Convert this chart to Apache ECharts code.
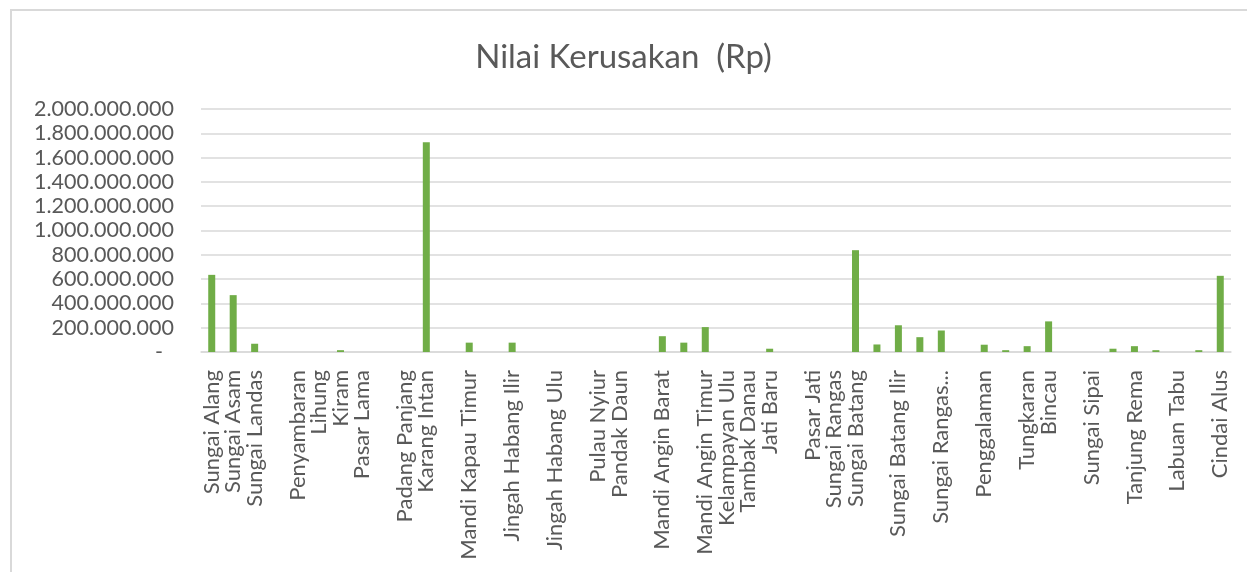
<!DOCTYPE html>
<html>
<head>
<meta charset="utf-8">
<script src="https://cdn.jsdelivr.net/npm/echarts@6/dist/echarts.min.js"></script>
<style>
html,body{margin:0;padding:0;background:#fff;}
#chart{width:1247px;height:572px;}
</style>
</head>
<body>
<div id="chart"></div>
<script>
var chartTitle = 'Nilai Kerusakan  (Rp)';
var categories = [
  'Sungai Alang', 'Sungai Asam', 'Sungai Landas', '', 'Penyambaran', 'Lihung', 'Kiram', 'Pasar Lama',
  '', 'Padang Panjang', 'Karang Intan', '', 'Mandi Kapau Timur', '', 'Jingah Habang Ilir', '',
  'Jingah Habang Ulu', '', 'Pulau Nyiur', 'Pandak Daun', '', 'Mandi Angin Barat', '', 'Mandi Angin Timur',
  'Kelampayan Ulu', 'Tambak Danau', 'Jati Baru', '', 'Pasar Jati', 'Sungai Rangas', 'Sungai Batang', '',
  'Sungai Batang Ilir', '', 'Sungai Rangas...', '', 'Penggalaman', '', 'Tungkaran', 'Bincau',
  '', 'Sungai Sipai', '', 'Tanjung Rema', '', 'Labuan Tabu', '', 'Cindai Alus'
];
var nilaiKerusakan = [
  635000000, 468000000, 68000000, 0, 0, 0, 15000000, 0,
  0, 0, 1726000000, 0, 77000000, 0, 77000000, 0,
  0, 0, 0, 0, 0, 130000000, 77000000, 205000000,
  0, 0, 27000000, 0, 0, 0, 838000000, 62000000,
  220000000, 122000000, 177000000, 0, 60000000, 15000000, 48000000, 252000000,
  0, 0, 27000000, 48000000, 15000000, 0, 15000000, 627000000
];
var yMin = 0, yMax = 2000000000, yStep = 200000000;

function fmtNum(v) {
  if (v === 0) return '{z|-}';
  return String(Math.round(v)).replace(/\B(?=(\d{3})+(?!\d))/g, '.');
}

var chart = echarts.init(document.getElementById('chart'), null, {renderer: 'canvas'});
var textColor = '#595959';
var font = 'Lato';
chart.setOption({
  animation: false,
  backgroundColor: '#ffffff',
  graphic: [{
    type: 'rect',
    shape: {x: 11, y: 10, width: 1400, height: 800},
    style: {fill: 'none', stroke: '#D9D9D9', lineWidth: 2},
    silent: true
  }],
  title: {
    text: chartTitle,
    left: 'center',
    top: 36,
    textStyle: {fontFamily: font, fontSize: 33, fontWeight: 'normal', color: textColor}
  },
  grid: {left: 201, right: 16, top: 109, bottom: 220, containLabel: false},
  xAxis: {
    type: 'category',
    data: categories,
    axisLine: {lineStyle: {color: '#D9D9D9', width: 1.5}},
    axisTick: {show: false},
    axisLabel: {
      interval: 0,
      rotate: 90,
      margin: 18,
      fontFamily: font,
      fontSize: 22,
      color: textColor
    }
  },
  yAxis: {
    type: 'value',
    min: yMin,
    max: yMax,
    interval: yStep,
    axisLine: {show: false},
    axisTick: {show: false},
    splitLine: {lineStyle: {color: '#D9D9D9', width: 1.5}},
    axisLabel: {
      margin: 27,
      fontFamily: font,
      fontSize: 21.5,
      color: textColor,
      formatter: fmtNum,
      rich: {z: {fontFamily: font, fontSize: 21.5, color: textColor, padding: [0, 11, 0, 0]}}
    }
  },
  series: [{
    type: 'bar',
    data: nilaiKerusakan,
    barWidth: 7,
    itemStyle: {color: '#70AD47'}
  }]
});
</script>
</body>
</html>
